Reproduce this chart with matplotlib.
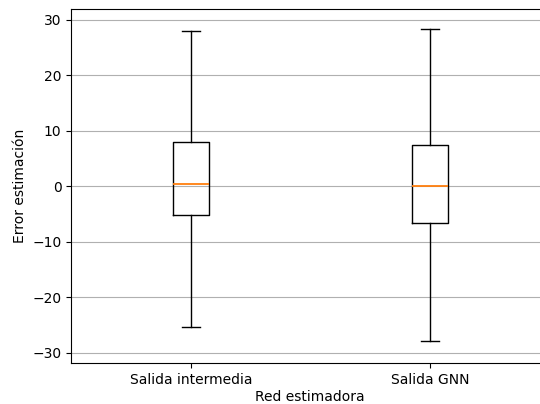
import matplotlib
matplotlib.use("Agg")
import matplotlib.pyplot as plt

# -----------------------------
#  Box statistics
# -----------------------------
labels = ["Salida intermedia", "Salida GNN"]
whisker_low = [-25.4, -27.8]
q1 = [-5.25, -6.65]
median = [0.35, 0.05]
q3 = [7.9, 7.35]
whisker_high = [27.95, 28.3]

stats = []
for i in range(len(labels)):
    stats.append({
        "label": labels[i],
        "whislo": whisker_low[i],
        "q1": q1[i],
        "med": median[i],
        "q3": q3[i],
        "whishi": whisker_high[i],
        "fliers": [],
    })

fig = plt.figure(figsize=(5.4, 4.04), dpi=100)
# the right spine falls outside the saved picture, as in the original crop
ax = fig.add_axes([0.132, 0.1007, 0.9296, 0.877])
ax.bxp(stats, positions=[1, 2], widths=0.15,
       medianprops={"color": "#ff7f0e", "linewidth": 1.3})
ax.yaxis.grid(True)
ax.set_axisbelow(True)
ax.set_xlim(0.5, 2.6)
ax.set_ylim(-31.9, 31.9)
ax.set_xlabel("Red estimadora")
ax.xaxis.set_label_coords(0.4755, -0.076)
ax.set_ylabel("Error estimación")

fig.savefig("out.png", dpi=100)
